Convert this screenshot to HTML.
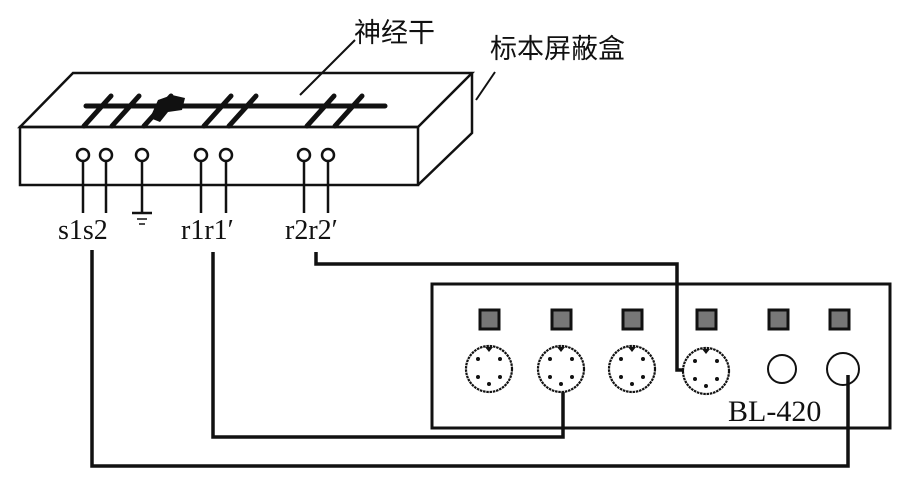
<!DOCTYPE html>
<html><head><meta charset="utf-8"><style>
html,body{margin:0;padding:0;background:#fff}
svg{display:block}
text{font-family:"Liberation Serif","Noto Serif CJK SC",serif;fill:#111}
.cj{font-family:"Liberation Sans","Noto Sans CJK SC",sans-serif}
</style></head><body>
<svg width="913" height="503" viewBox="0 0 913 503" xmlns="http://www.w3.org/2000/svg">
<g fill="none" stroke="#111" stroke-width="2.5">
<polygon points="20,127 73,73 472,73 418,127"/>
<rect x="20" y="127" width="398" height="58"/>
<polyline points="418,185 472,133 472,73"/>
</g>
<g stroke="#111" stroke-width="5" stroke-linecap="round">
<line x1="86" y1="106" x2="385" y2="106"/>
<line x1="84" y1="126" x2="111" y2="96"/><line x1="112" y1="126" x2="139" y2="96"/><line x1="144" y1="126" x2="171" y2="96"/>
<line x1="204" y1="126" x2="231" y2="96"/><line x1="229" y1="126" x2="256" y2="96"/>
<line x1="307" y1="126" x2="334" y2="96"/><line x1="335" y1="126" x2="362" y2="96"/>
</g>
<polygon points="150,118 158,100 172,95 185,98 182,110 168,112 160,122" fill="#111"/>
<g stroke="#111" stroke-width="2">
<line x1="300" y1="95" x2="355" y2="40"/>
<line x1="476" y1="100" x2="495" y2="72"/>
</g>
<g stroke="#111" stroke-width="2.5" fill="#fff">
<line x1="83" y1="161" x2="83" y2="213"/><line x1="106" y1="161" x2="106" y2="213"/><line x1="142" y1="161" x2="142" y2="213"/>
<line x1="201" y1="161" x2="201" y2="213"/><line x1="226" y1="161" x2="226" y2="213"/>
<line x1="304" y1="161" x2="304" y2="213"/><line x1="328" y1="161" x2="328" y2="213"/>
<circle cx="83" cy="155" r="6"/><circle cx="106" cy="155" r="6"/><circle cx="142" cy="155" r="6"/>
<circle cx="201" cy="155" r="6"/><circle cx="226" cy="155" r="6"/>
<circle cx="304" cy="155" r="6"/><circle cx="328" cy="155" r="6"/>
<line x1="132" y1="213" x2="152" y2="213"/><line x1="137" y1="219" x2="147" y2="219" stroke-width="1.5"/><line x1="139" y1="224" x2="145" y2="224" stroke-width="1.5"/>
</g>
<text x="58" y="239" font-size="28">s1s2</text>
<text x="181" y="239" font-size="28">r1r1′</text>
<text x="285" y="239" font-size="28">r2r2′</text>
<text x="354" y="42" font-size="27" class="cj">神经干</text>
<text x="490" y="58" font-size="27" class="cj">标本屏蔽盒</text>
<rect x="432" y="284" width="458" height="144" fill="none" stroke="#111" stroke-width="3"/>
<g fill="#777" stroke="#111" stroke-width="3">
<rect x="480" y="310" width="19" height="19"/><rect x="552" y="310" width="19" height="19"/><rect x="623" y="310" width="19" height="19"/>
<rect x="697" y="310" width="19" height="19"/><rect x="769" y="310" width="19" height="19"/><rect x="830" y="310" width="19" height="19"/>
</g>
<g fill="#fff" stroke="#111" stroke-width="2.2" stroke-dasharray="2.5,0.8">
<circle cx="489" cy="369" r="23"/><circle cx="561" cy="369" r="23"/><circle cx="632" cy="369" r="23"/><circle cx="706" cy="371" r="23"/>
</g>
<g fill="#fff" stroke="#111" stroke-width="2">
<circle cx="782" cy="369" r="14"/><circle cx="843" cy="369" r="16"/>
</g>
<g fill="#111">
<circle cx="478" cy="359" r="2"/><circle cx="500" cy="359" r="2"/><circle cx="478" cy="377" r="2"/><circle cx="500" cy="377" r="2"/><circle cx="489" cy="384" r="2"/><path d="M485 347h8l-4 5z"/>
<circle cx="550" cy="359" r="2"/><circle cx="572" cy="359" r="2"/><circle cx="550" cy="377" r="2"/><circle cx="572" cy="377" r="2"/><circle cx="561" cy="384" r="2"/><path d="M557 347h8l-4 5z"/>
<circle cx="621" cy="359" r="2"/><circle cx="643" cy="359" r="2"/><circle cx="621" cy="377" r="2"/><circle cx="643" cy="377" r="2"/><circle cx="632" cy="384" r="2"/><path d="M628 347h8l-4 5z"/>
<circle cx="695" cy="361" r="2"/><circle cx="717" cy="361" r="2"/><circle cx="695" cy="379" r="2"/><circle cx="717" cy="379" r="2"/><circle cx="706" cy="386" r="2"/><path d="M702 349h8l-4 5z"/>
</g>
<text x="728" y="421" font-size="30">BL-420</text>
<g fill="none" stroke="#111" stroke-width="3.5">
<polyline points="92,250 92,466 848,466 848,375"/>
<polyline points="213,252 213,437 563,437 563,392"/>
<polyline points="316,252 316,264 677,264 677,370 684,370"/>
</g>
</svg>
</body></html>
